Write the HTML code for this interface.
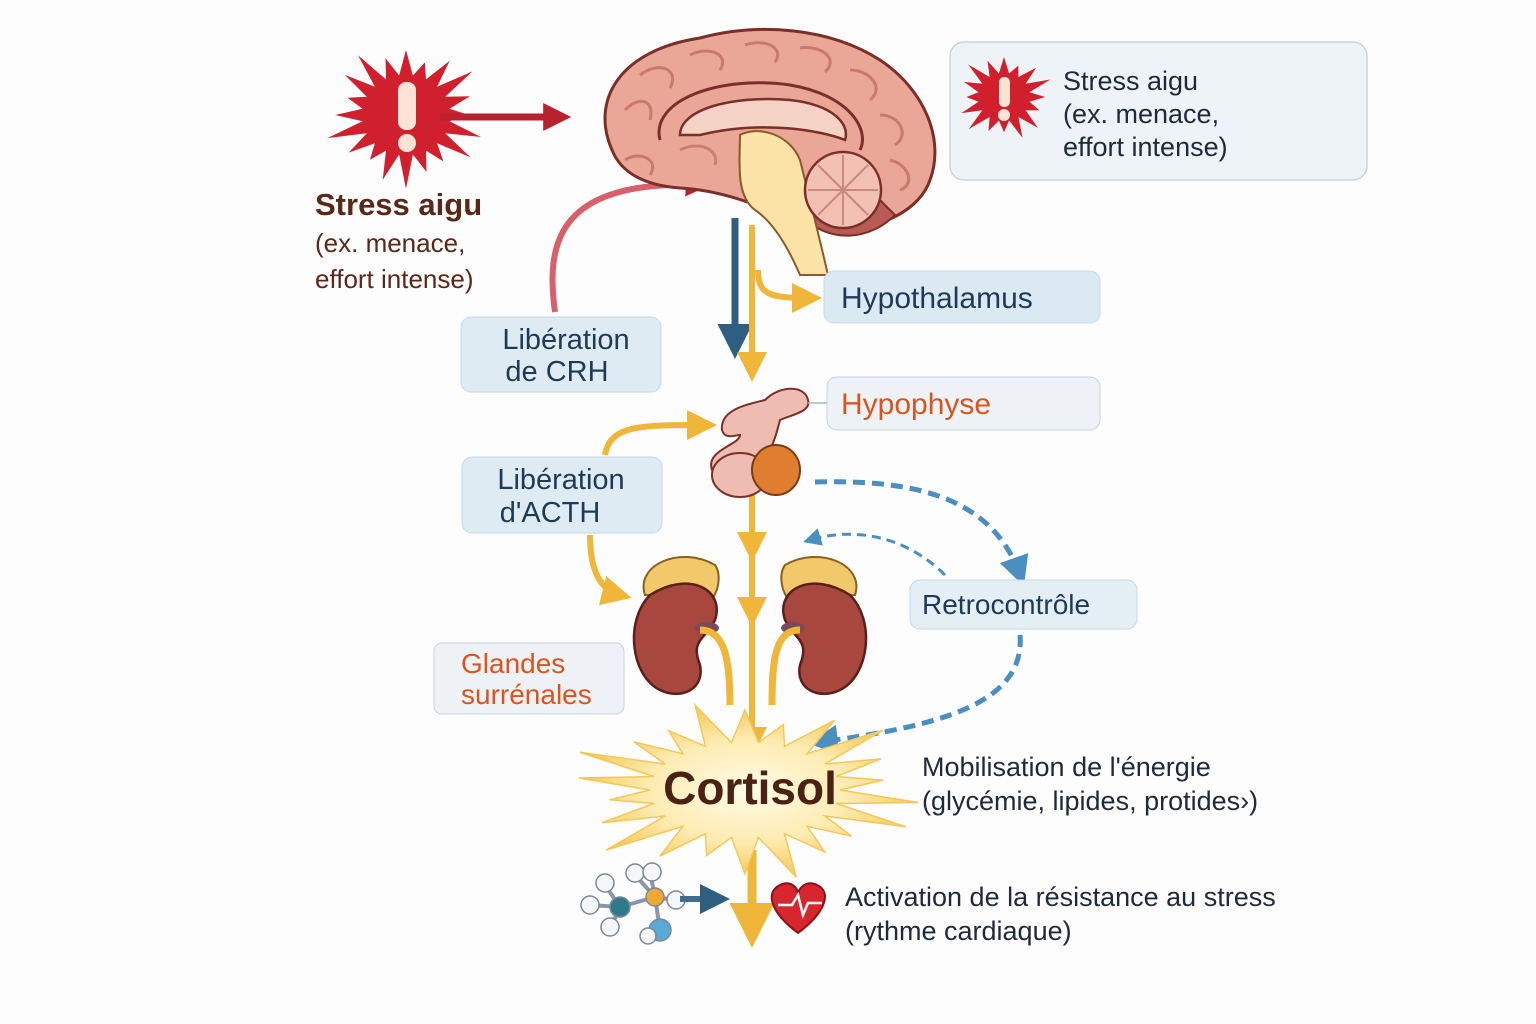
<!DOCTYPE html>
<html><head><meta charset="utf-8"><style>
html,body{margin:0;padding:0;background:#fdfdfe;}
svg{display:block;font-family:"Liberation Sans",sans-serif;}
</style></head><body>
<svg id="s" width="1536" height="1024" viewBox="0 0 1536 1024" xmlns="http://www.w3.org/2000/svg">
<defs>
<marker id="ay" viewBox="0 0 10 10" refX="6" refY="5" markerWidth="5" markerHeight="5" orient="auto"><path d="M0,0L10,5L0,10z" fill="#f0b63a"/></marker>
<marker id="ab" viewBox="0 0 10 10" refX="6" refY="5" markerWidth="5" markerHeight="5" orient="auto"><path d="M0,0L10,5L0,10z" fill="#2e5f82"/></marker>
<marker id="ar" viewBox="0 0 10 10" refX="6" refY="5" markerWidth="4" markerHeight="4" orient="auto"><path d="M0,0L10,5L0,10z" fill="#b8222e"/></marker>
<marker id="ad" viewBox="0 0 10 10" refX="6" refY="5" markerWidth="6" markerHeight="6" orient="auto"><path d="M0,0L10,5L0,10z" fill="#4a8fc0"/></marker>
<radialGradient id="cg"><stop offset="0" stop-color="#fffbe8"/><stop offset="0.6" stop-color="#fdebb0"/><stop offset="1" stop-color="#f6c95a"/></radialGradient>
</defs>

<polygon id="b1" fill="#d0202e"/>
<rect x="398" y="82" width="18" height="48" rx="8" fill="#fbe3d6"/>
<circle cx="407" cy="143" r="9" fill="#fbe3d6"/>
<path d="M440,117 L560,117" stroke="#b8222e" stroke-width="7" marker-end="url(#ar)"/>
<text x="315" y="215" font-size="31" font-weight="bold" fill="#5a2818">Stress aigu</text>
<text x="315" y="252" font-size="26" fill="#5a2818">(ex. menace,</text>
<text x="315" y="288" font-size="26" fill="#5a2818">effort intense)</text>

<path d="M555,312 C545,240 560,180 700,185" fill="none" stroke="#d9606a" stroke-width="6" marker-end="url(#ar)"/>

<!-- brain -->
<path d="M612,150 C590,100 620,50 700,38 C760,22 830,28 880,60 C925,90 945,140 930,180 C920,210 880,230 840,228 L790,220 C760,205 720,190 680,188 C640,185 620,170 612,150z" fill="#eaa797" stroke="#7a2f28" stroke-width="3"/>
<g fill="none" stroke="#c97a6c" stroke-width="3">
<path d="M625,110 C640,95 655,100 650,120 M640,75 C660,60 680,70 670,88 M690,55 C710,45 730,55 720,70 M745,45 C765,38 785,48 775,62 M800,48 C820,45 840,58 825,72 M850,70 C870,70 885,88 870,100 M880,115 C900,115 910,135 895,145 M890,160 C910,165 915,185 900,190 M625,160 C640,150 660,160 650,175"/>
</g>
<path d="M800,215 C830,245 870,240 895,215 L880,200 C850,215 820,215 800,215z" fill="#b85a55" stroke="#7a2f28" stroke-width="2"/>
<path d="M660,140 C650,100 720,75 790,85 C850,95 870,130 860,150" fill="none" stroke="#7a2f28" stroke-width="3"/>
<path d="M680,135 C680,110 730,95 790,100 C835,105 850,125 845,140 C820,130 760,120 700,135z" fill="#f5d2c6" stroke="#7a2f28" stroke-width="2.5"/>
<path d="M740,135 C760,125 790,135 800,160 C810,200 820,240 828,275 L800,275 C785,240 770,220 755,210 C735,195 740,160 740,135z" fill="#fbe3a8" stroke="#8a5a2a" stroke-width="2"/>
<circle cx="843" cy="190" r="38" fill="#f3c0b4" stroke="#7a2f28" stroke-width="2.5"/>
<g stroke="#c98a80" stroke-width="2"><path d="M843,155V225M808,190H878M818,165L868,215M868,165L818,215"/></g>
<path d="M680,150 C700,140 720,150 715,165" fill="none" stroke="#c98070" stroke-width="3"/>

<path d="M735,218 V345" stroke="#2e5f82" stroke-width="7" marker-end="url(#ab)"/>
<path d="M752,225 V370" stroke="#f0b63a" stroke-width="6" marker-end="url(#ay)"/>
<path d="M758,270 C758,295 770,298 810,298" fill="none" stroke="#f0b63a" stroke-width="6" marker-end="url(#ay)"/>
<path d="M752,495 V550" stroke="#f0b63a" stroke-width="6" marker-end="url(#ay)"/>
<path d="M752,555 V615" stroke="#f0b63a" stroke-width="6" marker-end="url(#ay)"/>
<path d="M752,620 V745" stroke="#f0b63a" stroke-width="6" marker-end="url(#ay)"/>
<path d="M752,850 V930" stroke="#f0b63a" stroke-width="9" marker-end="url(#ay)"/>
<path d="M605,455 C610,425 640,425 705,425" fill="none" stroke="#f0b63a" stroke-width="6" marker-end="url(#ay)"/>
<path d="M590,535 C590,570 600,590 620,595" fill="none" stroke="#f0b63a" stroke-width="6" marker-end="url(#ay)"/>

<path d="M722,430 C720,410 745,405 765,400 C780,385 805,385 808,400 C812,412 790,415 780,420 C775,440 770,455 760,460 C735,470 720,480 712,470 C705,450 740,445 740,435 C735,435 725,440 722,430z" fill="#eebcb0" stroke="#7a2f28" stroke-width="2"/>
<ellipse cx="740" cy="475" rx="28" ry="22" fill="#eebcb0" stroke="#7a2f28" stroke-width="2"/>
<ellipse cx="776" cy="470" rx="24" ry="25" fill="#e07e30" stroke="#7a3a18" stroke-width="2"/>

<g>
<path d="M645,595 C635,565 680,545 715,565 C722,575 718,595 710,600z" fill="#f1c86a" stroke="#8a6020" stroke-width="2"/>
<path d="M650,595 C690,570 725,590 715,620 C705,640 690,640 700,665 C705,690 680,700 660,690 C630,675 625,620 650,595z" fill="#a8473e" stroke="#5a1f1a" stroke-width="2.5"/>
<ellipse cx="707" cy="628" rx="12" ry="6" fill="#7a4a5a"/>
<path d="M700,630 C725,630 730,660 730,705" fill="none" stroke="#f0b63a" stroke-width="7"/>
<path d="M855,595 C865,565 820,545 785,565 C778,575 782,595 790,600z" fill="#f1c86a" stroke="#8a6020" stroke-width="2"/>
<path d="M850,595 C810,570 775,590 785,620 C795,640 810,640 800,665 C795,690 820,700 840,690 C870,675 875,620 850,595z" fill="#a8473e" stroke="#5a1f1a" stroke-width="2.5"/>
<ellipse cx="793" cy="628" rx="12" ry="6" fill="#7a4a5a"/>
<path d="M800,630 C775,630 772,660 772,705" fill="none" stroke="#f0b63a" stroke-width="7"/>
</g>

<path d="M815,482 C900,480 990,490 1020,575" fill="none" stroke="#4a8fc0" stroke-width="5" stroke-dasharray="12,7" marker-end="url(#ad)"/>
<path d="M945,575 C910,540 860,525 810,540" fill="none" stroke="#4a8fc0" stroke-width="3" stroke-dasharray="9,6" marker-end="url(#ad)"/>
<path d="M1020,635 C1025,700 950,725 820,742" fill="none" stroke="#4a8fc0" stroke-width="5" stroke-dasharray="12,7" marker-end="url(#ad)"/>

<polygon id="b2" fill="url(#cg)" stroke="#f3c85a" stroke-width="1.5"/>
<text x="750" y="804" font-size="46" font-weight="bold" fill="#4a2214" text-anchor="middle">Cortisol</text>

<g stroke="#8a97a8" stroke-width="4" fill="none">
<path d="M590,905L620,907M605,885L620,907M612,925L620,907M620,907L655,897M635,875L655,897M675,900L655,897M660,930L655,897M650,872L655,897"/>
</g>
<g stroke="#7a8898" stroke-width="1.5">
<circle cx="590" cy="905" r="9" fill="#f4f6f8"/><circle cx="605" cy="883" r="9" fill="#f4f6f8"/><circle cx="610" cy="927" r="9" fill="#f4f6f8"/>
<circle cx="620" cy="907" r="10" fill="#2e7a8a"/><circle cx="635" cy="873" r="9" fill="#f4f6f8"/><circle cx="652" cy="872" r="9" fill="#f4f6f8"/>
<circle cx="655" cy="897" r="9" fill="#f0a830"/><circle cx="676" cy="900" r="9" fill="#f4f6f8"/><circle cx="660" cy="930" r="11" fill="#5aaad8"/><circle cx="648" cy="936" r="8" fill="#f4f6f8"/>
</g>
<path d="M680,899 H718" stroke="#3e6d90" stroke-width="6" marker-end="url(#ab)"/>
<path d="M798,933 C770,912 765,892 780,885 C790,880 797,887 798,893 C800,887 807,880 817,885 C832,892 826,912 798,933z" fill="#d8262e" stroke="#8a1218" stroke-width="2"/>
<path d="M778,905 L792,905 L798,895 L803,915 L808,903 L822,903" fill="none" stroke="#fff" stroke-width="2.5"/>

<rect x="950" y="42" width="417" height="138" rx="14" fill="#eef3f8" stroke="#c5d5e3" stroke-width="1.5"/>
<polygon id="b3" fill="#d0202e"/>
<rect x="999" y="77" width="11" height="30" rx="5" fill="#fbe3d6"/><circle cx="1004" cy="115" r="6" fill="#fbe3d6"/>
<text x="1063" y="90" font-size="27" fill="#1e2a3a">Stress aigu</text>
<text x="1063" y="123" font-size="27" fill="#1e2a3a">(ex. menace,</text>
<text x="1063" y="156" font-size="27" fill="#1e2a3a">effort intense)</text>

<rect x="824" y="271" width="276" height="52" rx="10" fill="#dbe9f2" stroke="#c8dbe8"/>
<text x="841" y="308" font-size="30" fill="#1e3a56">Hypothalamus</text>
<rect x="827" y="377" width="273" height="53" rx="10" fill="#eef2f6" stroke="#c5d2de"/>
<text x="841" y="414" font-size="30" fill="#d9541e">Hypophyse</text>
<path d="M808,403 H827" stroke="#aab8c5" stroke-width="1.5"/>
<rect x="461" y="317" width="200" height="75" rx="10" fill="#dfebf3" stroke="#c5d8e5"/>
<text x="566" y="349" font-size="29" fill="#1e3a56" text-anchor="middle">Libération</text>
<text x="557" y="381" font-size="29" fill="#1e3a56" text-anchor="middle">de CRH</text>
<rect x="462" y="457" width="200" height="76" rx="10" fill="#dfebf3" stroke="#c5d8e5"/>
<text x="561" y="489" font-size="29" fill="#1e3a56" text-anchor="middle">Libération</text>
<text x="550" y="522" font-size="29" fill="#1e3a56" text-anchor="middle">d'ACTH</text>
<rect x="434" y="643" width="190" height="71" rx="8" fill="#eef2f6" stroke="#c5d2de"/>
<text x="461" y="673" font-size="28" fill="#d9541e">Glandes</text>
<text x="461" y="704" font-size="28" fill="#d9541e">surrénales</text>
<rect x="910" y="580" width="227" height="49" rx="10" fill="#e4eef5" stroke="#c5d8e5"/>
<text x="922" y="614" font-size="28" fill="#1e3a56">Retrocontrôle</text>

<text x="922" y="776" font-size="27" fill="#1e2a3a">Mobilisation de l'énergie</text>
<text x="922" y="810" font-size="27" fill="#1e2a3a">(glycémie, lipides, protides›)</text>
<text x="845" y="906" font-size="27" fill="#1e2a3a">Activation de la résistance au stress</text>
<text x="845" y="940" font-size="27" fill="#1e2a3a">(rythme cardiaque)</text>
</svg>
<script>
function star(id,cx,cy,rx,ry,ix,iy,n){var p=[];for(var i=0;i<2*n;i++){var a=Math.PI*i/n-Math.PI/2;var o=i%2==0;var j=o?(1+0.15*Math.sin(i*2.3)):1;p.push((cx+Math.cos(a)*(o?rx*j:ix)).toFixed(1)+","+(cy+Math.sin(a)*(o?ry*j:iy)).toFixed(1));}document.getElementById(id).setAttribute("points",p.join(" "));}
star("b1",406,115,72,65,44,40,20);
star("b2",745,790,160,80,95,48,22);
star("b3",1004,97,44,40,26,24,16);
</script>
</body></html>
